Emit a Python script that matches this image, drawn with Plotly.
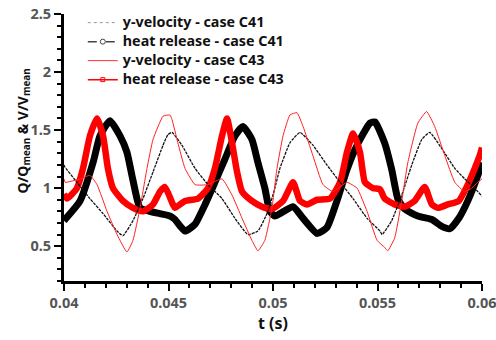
import plotly.graph_objects as go

# ---- data ----
t_heat41 = [0.04, 0.04077, 0.04139, 0.04172, 0.04220, 0.04268, 0.04301, 0.04325, 0.04349, 0.04364,
            0.04411, 0.04459, 0.04507, 0.04531, 0.04579, 0.04627, 0.04675, 0.04722, 0.04770, 0.04818,
            0.04856, 0.04899, 0.04928, 0.04961, 0.04985, 0.05009, 0.05033, 0.05096, 0.05144, 0.05211,
            0.05258, 0.05306, 0.05354, 0.05402, 0.05464, 0.05488, 0.05534, 0.05568, 0.05597, 0.05630,
            0.05693, 0.05760, 0.05808, 0.05846, 0.05889, 0.05932, 0.05980, 0.06]
v_heat41 = [0.72, 0.89, 1.22, 1.45, 1.58, 1.45, 1.31, 1.11, 0.91, 0.83,
            0.80, 0.78, 0.76, 0.73, 0.63, 0.69, 0.86, 1.05, 1.25, 1.45,
            1.53, 1.42, 1.22, 1.00, 0.80, 0.76, 0.78, 0.84, 0.74, 0.61,
            0.66, 0.89, 1.16, 1.37, 1.56, 1.57, 1.39, 1.16, 0.91, 0.82,
            0.76, 0.73, 0.67, 0.65, 0.74, 0.89, 1.11, 1.22]

t_heat43 = [0.04, 0.04014, 0.04062, 0.04091, 0.04124, 0.04158, 0.04187, 0.04210, 0.04234, 0.04282,
            0.04330, 0.04378, 0.04426, 0.04459, 0.04483, 0.04521, 0.04531, 0.04579, 0.04641, 0.04689,
            0.04722, 0.04756, 0.04780, 0.04804, 0.04828, 0.04852, 0.04899, 0.04947, 0.04995, 0.05048,
            0.05096, 0.05129, 0.05163, 0.05211, 0.05273, 0.05321, 0.05354, 0.05383, 0.05416, 0.05440,
            0.05479, 0.05512, 0.05534, 0.05582, 0.05630, 0.05678, 0.05726, 0.05760, 0.05789, 0.05837,
            0.05889, 0.05932, 0.05965, 0.05989, 0.06]
v_heat43 = [0.95, 0.91, 1.00, 1.17, 1.45, 1.60, 1.45, 1.17, 1.00, 0.89,
            0.83, 0.80, 0.86, 0.97, 1.01, 0.86, 0.83, 0.89, 0.91, 1.00,
            1.17, 1.45, 1.60, 1.39, 1.14, 0.97, 0.89, 0.84, 0.82, 0.89,
            1.05, 0.89, 0.86, 0.90, 0.91, 1.05, 1.31, 1.47, 1.31, 1.05,
            1.00, 0.99, 0.91, 0.86, 0.84, 0.89, 1.01, 0.86, 0.83, 0.86,
            0.89, 1.03, 1.17, 1.28, 1.35]

t_vel41 = [0.04, 0.04005, 0.04062, 0.04124, 0.04187, 0.04254, 0.04282, 0.04330, 0.04378, 0.04426,
           0.04474, 0.04497, 0.04517, 0.04564, 0.04627, 0.04689, 0.04756, 0.04818, 0.04880, 0.04928,
           0.04976, 0.05009, 0.05033, 0.05081, 0.05129, 0.05191, 0.05258, 0.05321, 0.05383, 0.05450,
           0.05512, 0.05522, 0.05568, 0.05616, 0.05664, 0.05712, 0.05750, 0.05808, 0.05870, 0.05917,
           0.05965, 0.06]
v_vel41 = [1.20, 1.18, 1.05, 0.91, 0.78, 0.63, 0.59, 0.72, 0.91, 1.14,
           1.37, 1.46, 1.48, 1.37, 1.17, 1.03, 0.91, 0.74, 0.60, 0.63,
           0.80, 1.00, 1.17, 1.39, 1.48, 1.37, 1.20, 1.05, 0.91, 0.74,
           0.63, 0.60, 0.72, 0.94, 1.20, 1.42, 1.48, 1.34, 1.17, 1.08,
           1.00, 0.93]

t_vel43 = [0.04, 0.04005, 0.04077, 0.04124, 0.04158, 0.04206, 0.04254, 0.04301, 0.04330, 0.04364,
           0.04397, 0.04426, 0.04474, 0.04507, 0.04517, 0.04545, 0.04579, 0.04627, 0.04689, 0.04756,
           0.04804, 0.04852, 0.04899, 0.04928, 0.04961, 0.04995, 0.05019, 0.05048, 0.05081, 0.05115,
           0.05144, 0.05191, 0.05239, 0.05287, 0.05354, 0.05402, 0.05450, 0.05498, 0.05534, 0.05549,
           0.05582, 0.05616, 0.05645, 0.05693, 0.05735, 0.05774, 0.05822, 0.05870, 0.05917, 0.05951,
           0.05980, 0.06]
v_vel43 = [1.08, 1.05, 1.08, 1.11, 1.03, 0.80, 0.60, 0.45, 0.55, 0.83,
           1.17, 1.42, 1.62, 1.63, 1.59, 1.39, 1.17, 1.03, 1.03, 1.08,
           0.94, 0.74, 0.55, 0.46, 0.55, 0.83, 1.17, 1.45, 1.63, 1.65,
           1.53, 1.28, 1.03, 0.97, 1.05, 1.00, 0.80, 0.55, 0.49, 0.46,
           0.57, 0.89, 1.22, 1.56, 1.66, 1.53, 1.28, 1.05, 0.97, 1.00,
           1.05, 1.08]

legend_names = ["y-velocity - case C41", "heat release - case C41",
                "y-velocity - case C43", "heat release - case C43"]

FONT = "Noto Sans"


def lname(s):
    return '<span style="font-size:14.3px">' + s + '</span>'


fig = go.Figure()

# data traces (no legend)
fig.add_trace(go.Scatter(x=t_heat41, y=v_heat41, mode="lines",
                         line=dict(color="black", width=7, shape="spline", smoothing=0.5),
                         showlegend=False))
fig.add_trace(go.Scatter(x=t_heat43, y=v_heat43, mode="lines",
                         line=dict(color="#ff0000", width=6.5, shape="spline", smoothing=0.5),
                         showlegend=False))
fig.add_trace(go.Scatter(x=t_vel41, y=v_vel41, mode="lines",
                         line=dict(color="#111111", width=1.3, dash="3px,1px", shape="spline", smoothing=0.4),
                         showlegend=False))
fig.add_trace(go.Scatter(x=t_vel43, y=v_vel43, mode="lines",
                         line=dict(color="#ff2020", width=1, shape="spline", smoothing=0.4),
                         showlegend=False))

# legend entries
fig.add_trace(go.Scatter(x=[None], y=[None], mode="lines", name=lname(legend_names[0]),
                         line=dict(color="#999999", width=1, dash="dot")))
fig.add_trace(go.Scatter(x=[None], y=[None], mode="lines+markers", name=lname(legend_names[1]),
                         line=dict(color="#444444", width=1.5, dash="dash"),
                         marker=dict(symbol="circle-open", size=5, color="#444444")))
fig.add_trace(go.Scatter(x=[None], y=[None], mode="lines", name=lname(legend_names[2]),
                         line=dict(color="#ff3030", width=1)))
fig.add_trace(go.Scatter(x=[None], y=[None], mode="lines+markers", name=lname(legend_names[3]),
                         line=dict(color="#ff0000", width=1.5),
                         marker=dict(symbol="square-open", size=4, color="#ff0000")))

axis_common = dict(showgrid=False, zeroline=False, showline=True, linecolor="black",
                   linewidth=3, ticks="outside", tickwidth=2, ticklen=7, tickcolor="black",
                   automargin=False, ticklabeloverflow="allow",
                   tickfont=dict(family=FONT, size=14.5, color="#555555", weight="bold"))

fig.update_xaxes(range=[0.04, 0.06], tick0=0.04, dtick=0.005,
                 minor=dict(dtick=0.001, ticks="outside", ticklen=4, tickwidth=2, tickcolor="black"),
                 title=dict(text="t (s)", font=dict(family=FONT, size=16, color="#111111", weight="bold"),
                            standoff=3),
                 **axis_common)
fig.update_yaxes(range=[0.2, 2.5001], tick0=0, dtick=0.5,
                 minor=dict(dtick=0.1, ticks="outside", ticklen=4, tickwidth=2, tickcolor="black"),
                 **axis_common)

fig.add_annotation(text="Q/Q<sub>mean</sub> & V/V<sub>mean</sub>", textangle=-90,
                   xref="paper", yref="paper", x=-0.098, y=0.56, xanchor="center", yanchor="middle",
                   showarrow=False,
                   font=dict(family=FONT, size=14, color="#111111", weight="bold"))

fig.update_layout(
    width=496, height=340,
    margin=dict(l=64, r=14, t=8, b=59),
    paper_bgcolor="white", plot_bgcolor="white",
    legend=dict(x=0.045, y=1.022, xanchor="left", yanchor="top", bgcolor="rgba(0,0,0,0)",
                font=dict(family=FONT, size=10, color="#111111", weight="bold"),
                itemwidth=30, tracegroupgap=0),
)

fig.write_html("out.html", config={"displayModeBar": False},
               post_script="document.body.style.margin='0';")
